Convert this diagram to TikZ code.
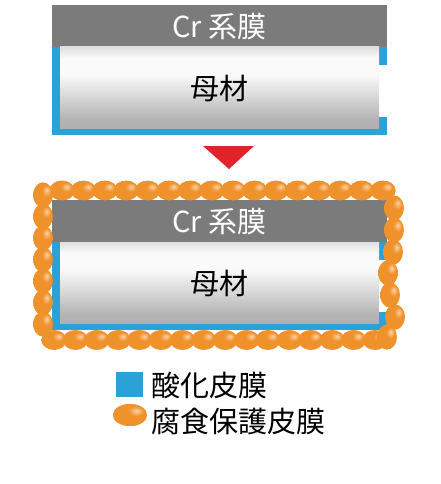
\documentclass[tikz,border=0pt]{standalone}
\usepackage{fontspec}
\newfontfamily\jp{Noto Sans CJK JP}
\definecolor{band}{RGB}{122,123,122}
\definecolor{oxblue}{RGB}{42,161,215}
\definecolor{beadmain}{RGB}{240,146,43}
\definecolor{beadhi}{RGB}{250,210,165}
\definecolor{beaddark}{RGB}{230,134,34}
\definecolor{arrowred}{RGB}{224,35,42}
\definecolor{mtop}{RGB}{172,174,173}
\definecolor{mwhite}{RGB}{250,250,250}
\definecolor{mmid}{RGB}{178,179,178}
\definecolor{mbot}{RGB}{162,162,162}
\pgfdeclareverticalshading{metal}{100bp}{color(0bp)=(mbot); color(30bp)=(mmid); color(58bp)=(mwhite); color(68bp)=(mwhite); color(88bp)=(mtop); color(100bp)=(mtop)}
\pgfdeclareradialshading{bead}{\pgfpoint{10bp}{10bp}}{color(0bp)=(beadhi); color(11bp)=(beadmain); color(38bp)=(beadmain); color(50bp)=(beaddark); color(75bp)=(beaddark)}
\tikzset{
  bandfill/.style={fill=band},
  oxfill/.style={fill=oxblue},
  metalfill/.style={shading=metal},
  beadshade/.style={fill=beadmain, shade, shading=bead},
  crtext/.style={text=white, font=\jp\fontsize{29}{29}\selectfont, inner sep=0pt},
  mtext/.style={text=black, font=\jp\fontsize{29}{29}\selectfont, inner sep=0pt},
  legtext/.style={text=black, font=\jp\fontsize{29}{29}\selectfont, inner sep=0pt, anchor=west},
}
\newcommand\layerstack[1]{%
  \fill[bandfill] (52,5) rectangle (387,47);
  \fill[oxfill] (52,47) rectangle (60,135);
  \fill[oxfill] (52,128) rectangle (387,135);
  \fill[oxfill] (379,47) rectangle (387,65);
  \fill[oxfill] (379,117) rectangle (387,135);
  \shade[metalfill] (60,47) rectangle (379,128);
  \node[crtext] (cr#1) at (219.5,27) {Cr 系膜};
  \node[mtext] (m#1) at (219.5,88) {母材};
}
\begin{document}
\begin{tikzpicture}[x=1pt,y=-1pt]
\useasboundingbox (0,0) rectangle (440,484);
\fill[white] (0,0) rectangle (440,484);
% top stack
\layerstack{1}
% arrow
\fill[arrowred] (203,146) -- (254,146) -- (229,169) -- cycle;
% bottom stack
\begin{scope}[yshift=-195pt]
\layerstack{2}
\end{scope}
% beads: top row
\foreach \i in {0,...,15} {
  \path[beadshade] ({62+21.4*\i},190.5) ellipse [x radius=12.5pt, y radius=9.8pt];
}
% left column
\foreach \yy in {195,216.5,238,259.5,281,302.5,324} {
  \path[beadshade] (43,\yy) ellipse [x radius=9.8pt, y radius=12.5pt];
}
% bottom row
\foreach \i in {0,...,15} {
  \path[beadshade] ({54+21.4*\i},340) ellipse [x radius=12.5pt, y radius=9.8pt];
}
% right column
\foreach \xx/\yy in {394/208,394/230,393/252,388/273,390/295,395/317,387/337} {
  \path[beadshade] (\xx,\yy) ellipse [x radius=9.8pt, y radius=12.5pt];
}
% legend
\fill[oxfill] (116,372) rectangle (143,397);
\path[beadshade] (130,415) ellipse [x radius=17pt, y radius=11pt];
\node[legtext] (l1) at (151,385) {酸化皮膜};
\node[legtext] (l2) at (151,421) {腐食保護皮膜};
\end{tikzpicture}
\end{document}
